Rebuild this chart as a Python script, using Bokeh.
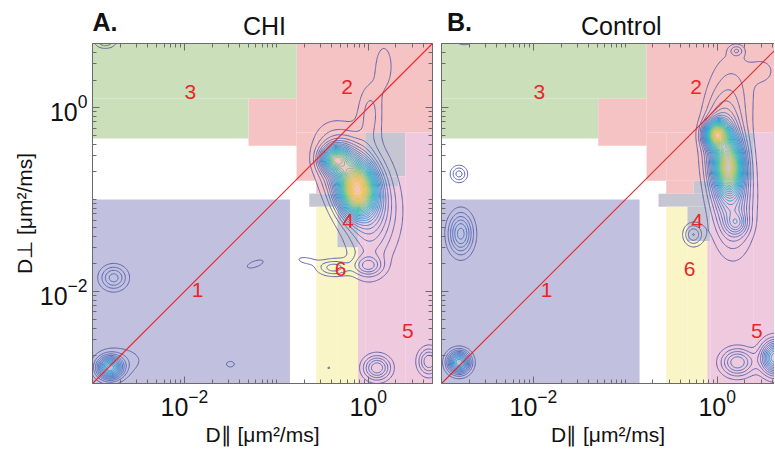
import numpy as np
from bokeh.plotting import figure
from bokeh.models import FixedTicker, LogAxis, Range1d
from bokeh.layouts import row, column
from bokeh.core.properties import value
from bokeh.embed import file_html
from bokeh.resources import INLINE

# ---------------- data ----------------
D_MIN, D_MAX = 1e-3, 5.0                 # axis range (µm²/ms), both axes
B_X_MAX = 10 ** 0.623                    # panel B is cut at the window edge
MAJOR_TICKS = [1e-2, 1.0]
MINOR_TICKS = [m * 10.0 ** e for e in range(-3, 1) for m in range(1, 10)
               if not (m == 1 and e in (-2, 0))] + [10.0]

PANEL_TAGS = ["A.", "B."]
PANEL_TITLES = ["CHI", "Control"]

# region classes (log10 bounds: x0, x1, y0, y1)
REGION_COLORS = {"1": "#c1c1df", "2": "#f5c3c3", "3": "#cadfba",
                 "4": "#c6c6d3", "5": "#efcadf", "6": "#f9f5c7"}
A_REGIONS = [
    ("3", -3.0, -0.780, 0.101, 0.75), ("3", -3.0, -1.303, -0.335, 0.101),
    ("2", -0.780, 0.75, -0.269, 0.75), ("2", -1.303, -0.780, -0.414, 0.101),
    ("2", -0.780, -0.566, -0.795, -0.269), ("2", -0.566, -0.033, -0.933, -0.269),
    ("2", -0.337, -0.033, -1.078, -0.933),
    ("4", -0.033, 0.403, -0.745, -0.269), ("4", -0.033, 0.330, -0.850, -0.745),
    ("4", -0.642, -0.337, -1.078, -0.933), ("4", -0.337, -0.112, -1.521, -1.078),
    ("5", 0.403, 0.75, -3.0, -0.269), ("5", -0.033, 0.403, -3.0, -0.850),
    ("5", 0.330, 0.403, -0.850, -0.745), ("5", -0.112, -0.033, -3.0, -1.078),
    ("6", -0.566, -0.337, -3.0, -1.078), ("6", -0.337, -0.112, -3.0, -1.521),
    ("1", -3.0, -0.852, -3.0, -0.998),
]
B_REGIONS = [
    ("3", -3.0, -0.769, 0.101, 0.75), ("3", -3.0, -1.295, -0.335, 0.101),
    ("2", -0.769, 0.75, -0.269, 0.75), ("2", -1.295, -0.769, -0.414, 0.101),
    ("2", -0.769, -0.555, -0.795, -0.269), ("2", -0.555, 0.036, -0.795, -0.269),
    ("2", -0.555, -0.258, -0.937, -0.795),
    ("4", 0.036, 0.398, -0.795, -0.269), ("4", -0.258, -0.073, -0.937, -0.795),
    ("4", -0.639, -0.073, -1.078, -0.937), ("4", -0.326, -0.073, -1.450, -1.078),
    ("5", 0.398, 0.75, -3.0, -0.269), ("5", -0.073, 0.398, -3.0, -0.795),
    ("5", -0.109, -0.073, -3.0, -1.450),
    ("6", -0.555, -0.326, -3.0, -1.078), ("6", -0.326, -0.109, -3.0, -1.450),
    ("1", -3.0, -0.845, -3.0, -0.998),
]

# region number labels (log10 positions)
LABEL_TEXT = ["1", "2", "3", "4", "5", "6"]
LABEL_LX = [-1.857, -0.230, -1.935, -0.220, 0.430, -0.300]
LABEL_LY = [-1.984, 0.228, 0.166, -1.234, -2.427, -1.756]

# density components (log10 centre, log10 width, corr, height)
A_CX = [-0.36, -0.12, -0.17, 0.00, 0.00, 0.00, -0.38, -0.68, 0.02, 0.17,
        -2.81, -2.68, -2.77, -1.23, -1.50, 0.095, 0.66, -0.43, -2.86]
A_CY = [-0.56, -0.90, -0.78, -0.95, -1.45, -1.72, -1.74, -1.66, -0.05, 0.45,
        -2.83, -2.75, -1.85, -1.70, -2.79, -2.83, -2.76, -2.83, 0.72]
A_SX = [0.10, 0.12, 0.20, 0.22, 0.15, 0.10, 0.12, 0.10, 0.09, 0.08,
        0.09, 0.20, 0.10, 0.12, 0.07, 0.10, 0.08, 0.03, 0.08]
A_SY = [0.09, 0.17, 0.28, 0.40, 0.30, 0.07, 0.06, 0.04, 0.22, 0.20,
        0.08, 0.12, 0.09, 0.06, 0.05, 0.09, 0.10, 0.02, 0.05]
A_RHO = [0.0, 0.0, -0.45, -0.2, 0.0, 0.0, 0.0, -0.3, 0.0, 0.0,
         0.0, 0.0, 0.0, 0.6, 0.0, 0.0, 0.0, 0.0, 0.0]
A_AMP = [13.0, 18.0, 11.0, 3.0, 2.0, 4.0, 3.5, 1.3, 2.2, 1.6,
         12.0, 1.5, 4.5, 1.3, 1.2, 6.0, 5.0, 1.1, 3.0]

B_CX = [-0.01, 0.13, 0.09, 0.14, 0.18, 0.21, 0.17, 0.21, 0.50, -0.26,
        -2.81, -2.79, -2.81, 0.22, 0.63, -2.75]
B_CY = [-0.29, -0.65, -0.55, -0.70, -1.15, -1.26, 0.20, 0.62, 0.40, -1.38,
        -0.72, -1.37, -2.77, -2.77, -2.72, 0.74]
B_SX = [0.08, 0.09, 0.13, 0.15, 0.14, 0.08, 0.17, 0.05, 0.10, 0.07,
        0.06, 0.09, 0.08, 0.12, 0.10, 0.07]
B_SY = [0.09, 0.16, 0.33, 0.45, 0.30, 0.08, 0.30, 0.04, 0.10, 0.08,
        0.06, 0.15, 0.08, 0.10, 0.12, 0.04]
B_RHO = [0.0, 0.0, -0.2, 0.0, 0.0, 0.0, 0.0, 0.0, 0.0, 0.0,
         0.0, 0.0, 0.0, 0.0, 0.0, 0.0]
B_AMP = [19.0, 13.0, 11.0, 3.0, 3.0, 4.0, 2.0, 2.5, 1.3, 4.0,
         3.5, 6.5, 12.0, 6.0, 12.0, 2.5]

LEVELS = list(range(1, 33))
CONTOUR_STOPS = ["#6063aa", "#5073bf", "#3b92d3", "#27afd4", "#3cc0b2",
                 "#86c97f", "#c8c95a", "#f2c240", "#f6d650"]

FONT = "Liberation Sans"
TITLE_H = 43
FRAME = 340


# ---------------- helpers ----------------
def hex_rgb(h):
    return np.array([int(h[i:i + 2], 16) for i in (1, 3, 5)], dtype=float)


def level_colors(n):
    stops = np.array([hex_rgb(c) for c in CONTOUR_STOPS])
    t = np.linspace(0, 1, n)
    pos = np.linspace(0, 1, len(stops))
    out = []
    for v in t:
        rgb = [np.interp(v, pos, stops[:, k]) for k in range(3)]
        out.append("#%02x%02x%02x" % tuple(int(round(c)) for c in rgb))
    return out


GRID_L = np.linspace(-3.05, 0.76, 320)
LXG, LYG = np.meshgrid(GRID_L, GRID_L)


def density(cx, cy, sx, sy, rho, amp):
    z = np.zeros_like(LXG)
    for a, b, s1, s2, r, h in zip(cx, cy, sx, sy, rho, amp):
        dx = (LXG - a) / s1
        dy = (LYG - b) / s2
        q = (dx * dx - 2 * r * dx * dy + dy * dy) / (1 - r * r)
        z += h * np.exp(-0.5 * q)
    return z


def style_axis(ax, show_labels):
    ax.ticker = FixedTicker(ticks=MAJOR_TICKS, minor_ticks=MINOR_TICKS)
    ax.major_tick_in = 7
    ax.major_tick_out = 0
    ax.minor_tick_in = 4
    ax.minor_tick_out = 0
    ax.axis_line_color = "#6a6a6a"
    ax.major_tick_line_color = "#6a6a6a"
    ax.minor_tick_line_color = "#6a6a6a"
    ax.major_label_text_font = FONT
    ax.major_label_text_color = "#111111"
    ax.axis_label_text_font = FONT
    ax.axis_label_text_font_style = "normal"
    ax.axis_label_text_color = "#111111"
    if show_labels:
        ax.major_label_text_font_size = "25px"
        ax.major_label_standoff = 5
    else:
        ax.major_label_text_font_size = "0px"
        ax.major_label_standoff = 0
        ax.major_label_text_alpha = 0


def make_panel(regions, cx, cy, sx, sy, rho, amp, x_max, frame_w,
               left_labels, border_left, border_right):
    p = figure(frame_width=frame_w, frame_height=FRAME,
               x_axis_type="log", y_axis_type="log",
               x_range=Range1d(D_MIN, x_max), y_range=Range1d(D_MIN, D_MAX),
               output_backend="svg", toolbar_location=None,
               min_border_left=border_left, min_border_right=border_right,
               min_border_top=0, min_border_bottom=71)
    p.grid.visible = False
    p.background_fill_color = "white"
    p.border_fill_color = "white"
    p.outline_line_color = None

    # regions
    for key in REGION_COLORS:
        rs = [r for r in regions if r[0] == key]
        p.quad(left=[10 ** r[1] for r in rs], right=[10 ** r[2] for r in rs],
               bottom=[10 ** r[3] for r in rs], top=[10 ** r[4] for r in rs],
               fill_color=REGION_COLORS[key], line_color=None)

    # contours
    z = density(cx, cy, sx, sy, rho, amp)
    p.contour(x=10 ** GRID_L, y=10 ** GRID_L, z=z, levels=LEVELS,
              line_color=level_colors(len(LEVELS)), line_width=1.0,
              fill_color=None)

    # diagonal D_par = D_perp
    diag = [D_MIN, D_MAX]
    p.line(x=diag, y=diag, line_color="#e8262b", line_width=1.1)

    # region numbers
    p.text(x=[10 ** v for v in LABEL_LX], y=[10 ** v for v in LABEL_LY],
           text=LABEL_TEXT, text_font=value(FONT), text_font_size="21px",
           text_color="#e8262b", text_align="center", text_baseline="middle")

    # axes
    style_axis(p.xaxis[0], True)
    style_axis(p.yaxis[0], left_labels)
    p.xaxis[0].axis_label = "D\u2225 [\u03bcm\u00b2/ms]"
    p.xaxis[0].axis_label_text_font_size = "21px"
    p.xaxis[0].axis_label_standoff = 4
    if left_labels:
        p.yaxis[0].axis_label = "D\u22a5 [\u03bcm\u00b2/ms]"
        p.yaxis[0].axis_label_text_font_size = "21px"
        p.yaxis[0].axis_label_standoff = 1
    top = LogAxis()
    style_axis(top, False)
    p.add_layout(top, "above")
    return p


pA = make_panel(A_REGIONS, A_CX, A_CY, A_SX, A_SY, A_RHO, A_AMP,
                D_MAX, 340, True, 92, 4)
right = LogAxis()
style_axis(right, False)
pA.add_layout(right, "right")

pB = make_panel(B_REGIONS, B_CX, B_CY, B_SX, B_SY, B_RHO, B_AMP,
                B_X_MAX, 333, False, 5, 0)

# title strip (pixel coordinates of the page)
TOTAL_W = 774
ptitle = figure(width=TOTAL_W, height=TITLE_H, x_range=Range1d(0, TOTAL_W),
                y_range=Range1d(0, TITLE_H), output_backend="svg",
                toolbar_location=None, x_axis_location=None,
                y_axis_location=None, min_border=0)
ptitle.grid.visible = False
ptitle.outline_line_color = None
ptitle.text(x=[92.0, 446.5], y=[22, 22], text=PANEL_TAGS,
            text_font=value(FONT), text_font_style="bold",
            text_font_size="25px", text_align="left", text_baseline="middle",
            text_color="#111111")
ptitle.text(x=[264.0, 620.8], y=[18, 18], text=PANEL_TITLES,
            text_font=value(FONT), text_font_size="25px", text_align="center",
            text_baseline="middle", text_color="#111111")

layout = column(ptitle, row(pA, pB, spacing=0), spacing=0)
open("out.html", "w").write(file_html(layout, INLINE))
